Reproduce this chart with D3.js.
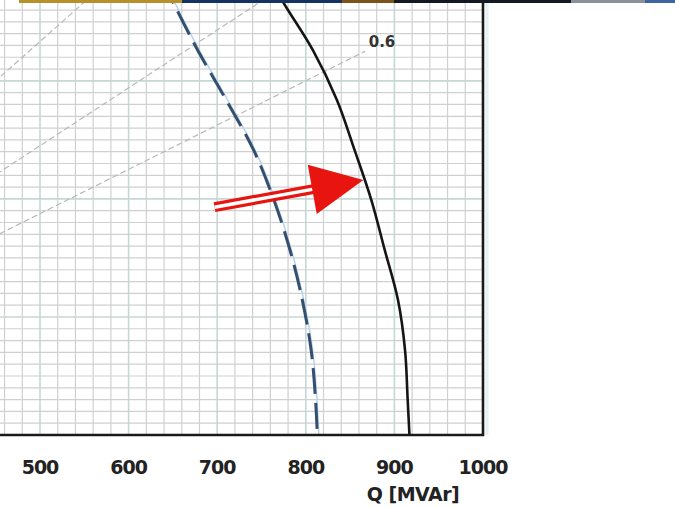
<!DOCTYPE html>
<html>
<head>
<meta charset="utf-8">
<script src="https://cdn.jsdelivr.net/npm/d3@7"></script>
<style>
  body { margin: 0; background: #fff; }
  svg { display: block; }
</style>
</head>
<body>
<script>
// DATA
var qTicks = [500, 600, 700, 800, 900, 1000];

// solid limit curve (Q MVAr, P MW)
var solidQ = [760, 773, 808, 835, 855, 874, 889, 904, 912, 915, 917];
var solidP = [771, 737, 652, 568, 483, 398, 314, 229, 144, 59, 0];

// dashed limit curve
var dashedQ = [638, 649, 678, 710, 741, 764, 782, 796, 806, 811, 813];
var dashedP = [771, 737, 652, 568, 483, 398, 314, 229, 144, 59, 0];

// power factor lines
var pfValues = [0.8, 0.7, 0.6];
var pfEndQ = [1000, 1000, 867];
var pfLabel = '0.6';
var pfLabelQ = 886, pfLabelP = 658;

// arrow pointing on the solid curve
var arrowTail = [697, 386];
var arrowTip = [865, 432];

var W = 675, H = 507;
var plotRight = 483, plotBottom = 435;

var svg = d3.select('body').append('svg')
	.attr('width', W)
	.attr('height', H);

var x = d3.scaleLinear().domain([500, 1000]).range([40, plotRight]);
var y = d3.scaleLinear().domain([0, 737]).range([plotBottom, 0]);

svg.append('clipPath').attr('id', 'plot')
	.append('rect')
	.attr('x', 0).attr('y', 0)
	.attr('width', plotRight).attr('height', plotBottom);

var plot = svg.append('g').attr('clip-path', 'url(#plot)');

//GRID
var minorQ = d3.range(440, 1001, 20);
var minorP = d3.range(20, 760, 20);

plot.selectAll('.vminor').data(minorQ).enter().append('line')
	.attr('x1', function(d){ return x(d); })
	.attr('x2', function(d){ return x(d); })
	.attr('y1', 0).attr('y2', plotBottom)
	.attr('stroke', function(d){ return d % 100 === 0 ? '#c4d9d5' : '#d0d0d0'; })
	.attr('stroke-width', function(d){ return d % 100 === 0 ? 1.6 : 1.2; });

plot.selectAll('.hminor').data(minorP).enter().append('line')
	.attr('x1', 0).attr('x2', plotRight)
	.attr('y1', function(d){ return y(d); })
	.attr('y2', function(d){ return y(d); })
	.attr('stroke', function(d){ return d % 200 === 0 ? '#c4d9d5' : '#d0d0d0'; })
	.attr('stroke-width', function(d){ return d % 200 === 0 ? 1.6 : 1.2; });

//POWER FACTOR LINES
pfValues.forEach(function(pf, i){
	var k = pf / Math.sqrt(1 - pf * pf);
	plot.append('line')
		.attr('x1', x(0)).attr('y1', y(0))
		.attr('x2', x(pfEndQ[i])).attr('y2', y(pfEndQ[i] * k))
		.attr('stroke', '#b8b8b8')
		.attr('stroke-width', 1.2)
		.attr('stroke-dasharray', '6,3');
});

svg.append('text')
	.attr('x', x(pfLabelQ)).attr('y', y(pfLabelP))
	.attr('text-anchor', 'middle')
	.attr('font-family', 'DejaVu Sans')
	.attr('font-weight', 'bold')
	.attr('font-size', 15)
	.attr('fill', '#333')
	.text(pfLabel);

//CURVES
var line = d3.line()
	.x(function(d){ return x(d[0]); })
	.y(function(d){ return y(d[1]); })
	.curve(d3.curveMonotoneY);

var dashedPts = dashedQ.map(function(q, i){ return [q, dashedP[i]]; });
var solidPts = solidQ.map(function(q, i){ return [q, solidP[i]]; });

plot.append('path')
	.attr('d', line(dashedPts))
	.attr('transform', 'translate(1.5,0)')
	.attr('fill', 'none')
	.attr('stroke', '#b7d2ea')
	.attr('stroke-width', 1.5);

plot.append('path')
	.attr('d', line(dashedPts))
	.attr('fill', 'none')
	.attr('stroke', '#34506e')
	.attr('stroke-width', 3)
	.attr('stroke-dasharray', '26,9');

plot.append('path')
	.attr('d', line(solidPts))
	.attr('fill', 'none')
	.attr('stroke', '#151515')
	.attr('stroke-width', 2.6);

//BORDER
svg.append('line')
	.attr('x1', plotRight + 4).attr('x2', plotRight + 4)
	.attr('y1', 3).attr('y2', plotBottom)
	.attr('stroke', '#e4f1f7').attr('stroke-width', 3);

svg.append('path')
	.attr('d', 'M0,' + plotBottom + 'H' + plotRight + 'V3')
	.attr('fill', 'none')
	.attr('stroke', '#1a1a1a')
	.attr('stroke-width', 2.6);

//AXIS LABELS
svg.selectAll('.tick').data(qTicks).enter().append('text')
	.attr('x', function(d){ return x(d); })
	.attr('y', 474)
	.attr('text-anchor', 'middle')
	.attr('font-family', 'DejaVu Sans')
	.attr('font-weight', 'bold')
	.attr('font-size', 19)
	.attr('letter-spacing', -1)
	.attr('fill', '#222')
	.text(function(d){ return d; });

svg.append('text')
	.attr('x', 413).attr('y', 501)
	.attr('text-anchor', 'middle')
	.attr('font-family', 'DejaVu Sans')
	.attr('font-weight', 'bold')
	.attr('font-size', 19)
	.attr('letter-spacing', -0.5)
	.attr('fill', '#222')
	.text('Q [MVAr]');

//ARROW
var tx = x(arrowTail[0]), ty = y(arrowTail[1]);
var hx = x(arrowTip[0]), hy = y(arrowTip[1]);
var len = Math.sqrt((hx - tx) * (hx - tx) + (hy - ty) * (hy - ty));
var ux = (hx - tx) / len, uy = (hy - ty) / len;
var headLen = 52, headW = 25;
var bx = hx - ux * headLen, by = hy - uy * headLen;

svg.append('line')
	.attr('x1', tx).attr('y1', ty)
	.attr('x2', bx + ux * 4).attr('y2', by + uy * 4)
	.attr('stroke', '#e8140f').attr('stroke-width', 10);

svg.append('line')
	.attr('x1', tx).attr('y1', ty)
	.attr('x2', bx + ux * 4).attr('y2', by + uy * 4)
	.attr('stroke', '#fff').attr('stroke-width', 3.5);

svg.append('path')
	.attr('d', 'M' + hx + ',' + hy +
		'L' + (bx - uy * headW) + ',' + (by + ux * headW) +
		'L' + (bx + uy * headW) + ',' + (by - ux * headW) + 'Z')
	.attr('fill', '#e8140f');

//TOP STRIP
var banner = [
	[19, 182, '#b8902a'],
	[182, 342, '#143360'],
	[342, 394, '#7a5418'],
	[394, 571, '#141820'],
	[571, 645, '#8b909a'],
	[645, 675, '#3d66a0']
];

svg.selectAll('.banner').data(banner).enter().append('rect')
	.attr('x', function(d){ return d[0]; })
	.attr('y', 0)
	.attr('width', function(d){ return d[1] - d[0]; })
	.attr('height', 3)
	.attr('fill', function(d){ return d[2]; });
</script>
</body>
</html>
